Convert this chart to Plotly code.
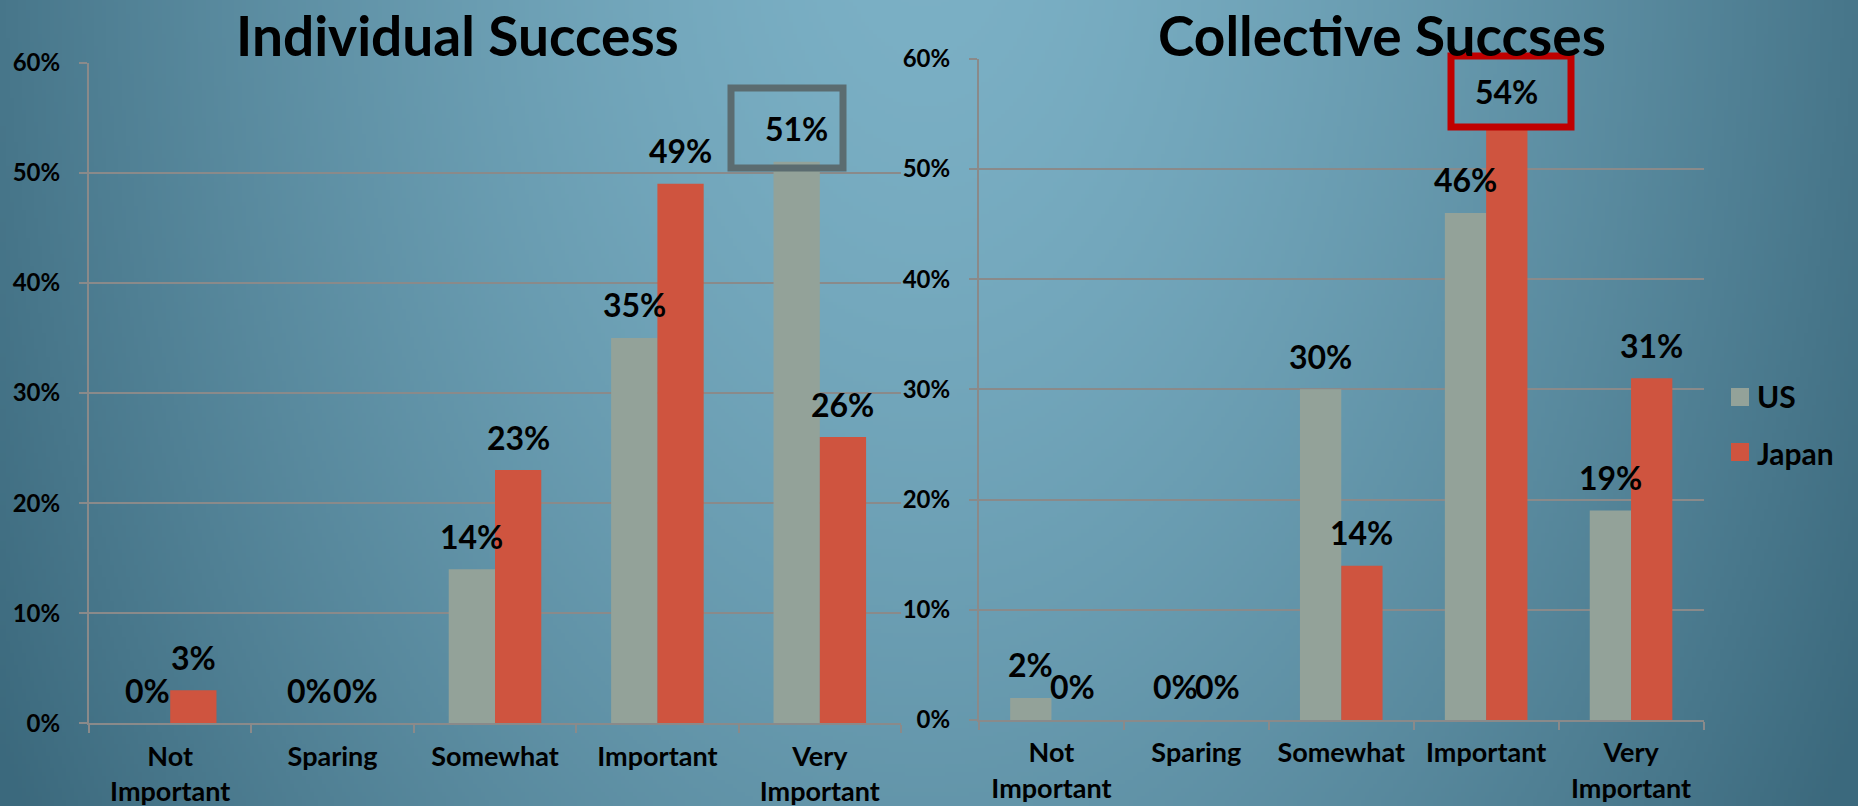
import base64
import struct
import zlib

import numpy as np
import plotly.graph_objects as go

# ---- data -------------------------------------------------------------
categories = ["Not Important", "Sparing", "Somewhat", "Important", "Very Important"]
tick_labels = ["Not<br>Important", "Sparing", "Somewhat", "Important", "Very<br>Important"]
series_names = ["US", "Japan"]

individual_us = [0, 0, 14, 35, 51]
individual_japan = [3, 0, 23, 49, 26]
collective_us = [2, 0, 30, 46, 19]
collective_japan = [0, 0, 14, 54, 31]

y_ticks = [0, 10, 20, 30, 40, 50, 60]
y_tick_labels = [f"{v}%" for v in y_ticks]

# ---- styling ----------------------------------------------------------
W, H = 1858, 806
FONT = "Lato"
US_COLOR = "#93a299"
JAPAN_COLOR = "#cf543f"
GRID = "#8a8a8a"
BAR_GAP = 0.43


def px_x(p):
    return p / W


def px_y(p):
    return 1 - p / H


def gradient_png(w, h):
    """Soft radial slide background, returned as a base64 PNG data URI."""
    xs = np.linspace(0, W, w)
    ys = np.linspace(0, H, h)
    X, Y = np.meshgrid(xs, ys)
    t = np.sqrt(((X - 925) / 925) ** 2 + ((Y + 100) / 1500) ** 2)
    t = np.clip(t, 0, 1.15) ** 1.5
    light = np.array([124, 177, 198], dtype=float)
    dark = np.array([72, 119, 139], dtype=float)
    img = light[None, None, :] + (dark - light)[None, None, :] * t[..., None]
    img = np.clip(img, 0, 255).astype(np.uint8)
    raw = b"".join(b"\x00" + row.tobytes() for row in img)

    def chunk(tag, data):
        c = struct.pack(">I", len(data)) + tag + data
        return c + struct.pack(">I", zlib.crc32(tag + data) & 0xFFFFFFFF)

    png = b"\x89PNG\r\n\x1a\n"
    png += chunk(b"IHDR", struct.pack(">IIBBBBB", w, h, 8, 2, 0, 0, 0))
    png += chunk(b"IDAT", zlib.compress(raw, 9))
    png += chunk(b"IEND", b"")
    return "data:image/png;base64," + base64.b64encode(png).decode()


fig = go.Figure()

panels = [
    ("x", "y", individual_us, individual_japan),
    ("x2", "y2", collective_us, collective_japan),
]
for xa, ya, us_vals, jp_vals in panels:
    for name, vals, color in zip(series_names, [us_vals, jp_vals], [US_COLOR, JAPAN_COLOR]):
        fig.add_trace(go.Bar(
            x=categories, y=vals, name=name, marker=dict(color=color, line=dict(width=0)),
            xaxis=xa, yaxis=ya, showlegend=False, hoverinfo="skip",
        ))

# value labels above each bar
half = (1 - BAR_GAP) / 4
annotations = []
for xa, ya, us_vals, jp_vals in panels:
    for vals, off in [(us_vals, -half), (jp_vals, half)]:
        for i, v in enumerate(vals):
            annotations.append(dict(
                x=i + off, y=v, xref=xa, yref=ya, text=f"{v}%", showarrow=False,
                yanchor="middle", xanchor="center", yshift=33,
                font=dict(family=FONT, size=32, color="black", weight="bold"),
            ))

# panel titles
for text, cx in [("Individual Success", 457), ("Collective Succses", 1382)]:
    annotations.append(dict(
        x=px_x(cx), y=1, xref="paper", yref="paper", text=text, showarrow=False,
        xanchor="center", yanchor="top",
        font=dict(family=FONT, size=55, color="black", weight="bold"),
    ))

# legend text
for name, cy in [("US", 396), ("Japan", 453)]:
    annotations.append(dict(
        x=px_x(1755), y=px_y(cy), xref="paper", yref="paper", text=name, showarrow=False,
        xanchor="left", yanchor="middle",
        font=dict(family=FONT, size=30, color="black", weight="bold"),
    ))

shapes = [
    # legend swatches
    dict(type="rect", xref="paper", yref="paper", x0=px_x(1731), x1=px_x(1749),
         y0=px_y(406), y1=px_y(388), fillcolor=US_COLOR, line=dict(width=0)),
    dict(type="rect", xref="paper", yref="paper", x0=px_x(1731), x1=px_x(1749),
         y0=px_y(461), y1=px_y(443), fillcolor=JAPAN_COLOR, line=dict(width=0)),
    # highlight frames around the top values
    dict(type="rect", xref="paper", yref="paper", x0=px_x(731), x1=px_x(843),
         y0=px_y(168), y1=px_y(88), line=dict(color="#5b6c70", width=7)),
    dict(type="rect", xref="paper", yref="paper", x0=px_x(1451), x1=px_x(1571),
         y0=px_y(127), y1=px_y(56), line=dict(color="#c00000", width=7)),
]

xaxis_style = dict(
    type="category", categoryorder="array", categoryarray=categories,
    tickvals=categories, ticktext=tick_labels,
    showline=True, linecolor=GRID, linewidth=2,
    ticks="outside", tickson="boundaries", ticklen=8, tickcolor=GRID, tickwidth=2,
    showgrid=False, zeroline=False, automargin=False,
    tickfont=dict(family=FONT, size=27, color="black", weight="bold"),
    ticklabelstandoff=8,
)
yaxis_style = dict(
    range=[0, 60], tickvals=y_ticks, ticktext=y_tick_labels,
    showline=True, linecolor=GRID, linewidth=2,
    ticks="outside", ticklen=8, tickcolor=GRID, tickwidth=2,
    showgrid=True, gridcolor=GRID, gridwidth=2, zeroline=False, automargin=False,
    tickfont=dict(family=FONT, size=24, color="black", weight="bold"),
    ticklabelstandoff=14,
)

fig.update_layout(
    width=W, height=H,
    margin=dict(l=0, r=0, t=0, b=0),
    paper_bgcolor="#5e90a5", plot_bgcolor="rgba(0,0,0,0)",
    barmode="group", bargap=BAR_GAP, bargroupgap=0,
    showlegend=False,
    xaxis=dict(domain=[px_x(89), px_x(901)], anchor="y", **xaxis_style),
    yaxis=dict(domain=[px_y(723.3), px_y(62.7)], anchor="x", **yaxis_style),
    xaxis2=dict(domain=[px_x(979), px_x(1703.5)], anchor="y2", **xaxis_style),
    yaxis2=dict(domain=[px_y(720), px_y(58.7)], anchor="x2", **yaxis_style),
    annotations=annotations,
    shapes=shapes,
    images=[dict(
        source=gradient_png(465, 202), xref="paper", yref="paper",
        x=0, y=1, sizex=1, sizey=1, xanchor="left", yanchor="top",
        sizing="stretch", layer="below",
    )],
)

fig.write_html("out.html", config={"displayModeBar": False})
